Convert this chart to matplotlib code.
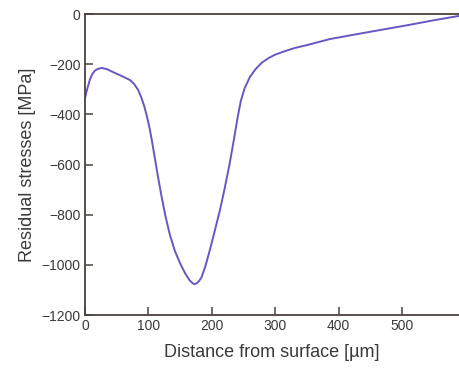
import numpy as np
import matplotlib
matplotlib.use('Agg')
import matplotlib.pyplot as plt

plt.rcParams['font.family'] = ['Liberation Sans', 'DejaVu Sans']

# residual stress profile vs depth
depth = [0, 4, 8, 12, 16, 21, 27, 35, 44, 58, 71, 78, 84, 89, 94, 98, 102, 106, 110,
         115, 121, 127, 134, 142, 150, 158, 165, 170, 173, 177, 180, 184, 190, 197,
         205, 213, 220, 228, 235, 241, 246, 252, 260, 269, 279, 290, 300, 312, 330,
         350, 386, 425, 465, 510, 550, 589]
stress = [-336, -295, -260, -238, -225, -218, -215, -220, -231, -247, -263, -280, -303,
          -333, -371, -410, -455, -510, -570, -645, -729, -805, -880, -945, -993, -1033,
          -1061, -1073, -1077, -1072, -1064, -1049, -1005, -941, -862, -781, -700, -600,
          -500, -410, -345, -295, -252, -220, -194, -175, -162, -151, -136, -124, -100,
          -82, -64, -44, -25, -8]

line_color = '#6a56c2'
axis_color = '#4a423e'
text_color = '#3a3a3a'

fig = plt.figure(figsize=(4.59, 3.69), dpi=100)
ax = fig.add_axes([0.185, 0.146, 0.815, 0.816])
ax.plot(depth, stress, color=line_color, lw=1.4)

ax.set_xlim(0, 590)
ax.set_ylim(-1200, 0)
ax.set_xticks([0, 100, 200, 300, 400, 500])
ax.set_yticks([0, -200, -400, -600, -800, -1000, -1200])

ax.spines['right'].set_visible(False)
for s in ['left', 'bottom', 'top']:
    ax.spines[s].set_color(axis_color)
    ax.spines[s].set_linewidth(1.3)

ax.tick_params(direction='in', length=6, width=1.1, color=axis_color,
               labelsize=10, labelcolor=text_color, pad=3)
ax.set_xlabel('Distance from surface [µm]', fontsize=13, color=text_color, labelpad=8)
ax.set_ylabel('Residual stresses [MPa]', fontsize=13, color=text_color, labelpad=4)

fig.savefig('out.png', dpi=100)
